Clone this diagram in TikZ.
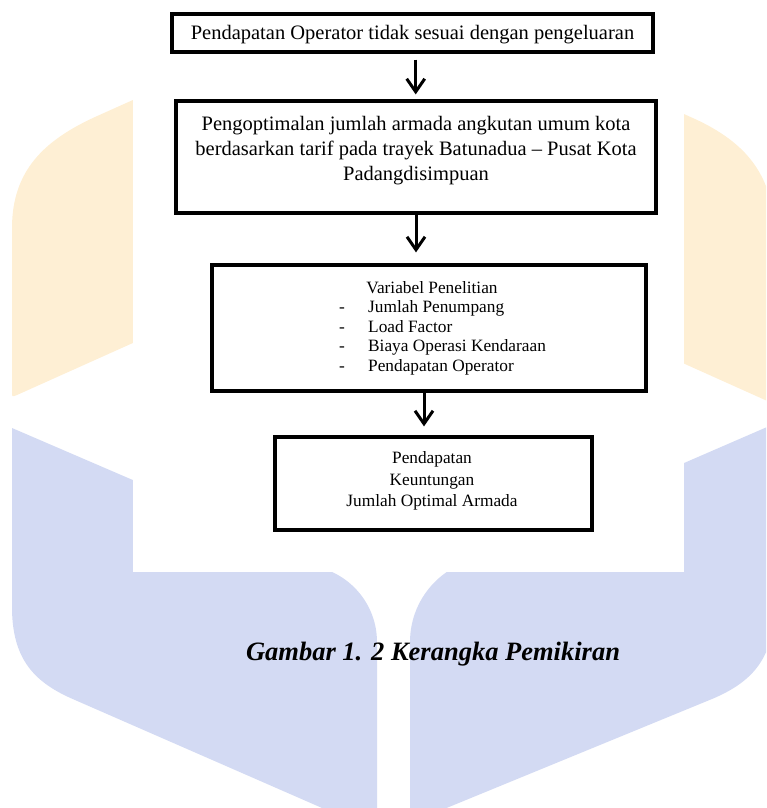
\documentclass[tikz,border=0pt]{standalone}
\usepackage{fontspec}
\setmainfont{Liberation Serif}
\usetikzlibrary{arrows.meta}
\definecolor{wmyellow}{RGB}{254,239,212}
\definecolor{wmblue}{RGB}{211,218,243}
\begin{document}
\begin{tikzpicture}[x=1pt,y=-1pt,
  box/.style={draw=black, line width=3.2pt, fill=white, inner sep=0pt},
  bigtxt/.style={font=\fontsize{20.5}{24}\selectfont, anchor=base, inner sep=0pt},
  smalltxt/.style={font=\fontsize{17.3}{20}\selectfont, anchor=base, inner sep=0pt},
  listtxt/.style={smalltxt, anchor=base west},
  arr/.style={line width=3pt, -{Straight Barb[length=13pt,width=18pt]}},
  captxt/.style={font=\fontsize{26.5}{30}\selectfont\bfseries\itshape, anchor=base, inner sep=0pt}
]
\useasboundingbox (0,0) rectangle (766,808);
\begin{scope}
\clip (0,0) rectangle (766,808);
% watermark
\fill[wmyellow] (300,25) -- (95,117) .. controls (45,140) and (12,170) .. (12,228) -- (12,392) .. controls (12,397) .. (17,395) -- (300,268) -- cycle;
\fill[wmyellow] (500,31) -- (695,119) .. controls (745,142) and (774,175) .. (774,233) -- (774,404) -- (500,281) -- cycle;
\fill[wmblue] (12,428) -- (300,552) -- (300,565) .. controls (342.5,565) and (377,599.5) .. (377,642) -- (377,832) -- (75,700) .. controls (35,683) and (12,660) .. (12,607) -- cycle;
\fill[wmblue] (410,823) -- (410,642) .. controls (410,595) and (448,557) .. (495,557) -- (495,545) -- (774,424) -- (774,609) .. controls (774,660) and (750,683) .. (712,699) -- cycle;
\fill[white] (133,0) rectangle (684,572);
\end{scope}
% boxes
\node[box, minimum width=481pt, minimum height=38pt] (b1) at (412.5,33) {};
\node[box, minimum width=480pt, minimum height=112pt] (b2) at (416,157) {};
\node[box, minimum width=434pt, minimum height=126pt] (b3) at (429,328) {};
\node[box, minimum width=317pt, minimum height=93pt] (b4) at (433.5,483.5) {};
% texts
\node[bigtxt] (t1) at (412.5,39.5) {Pendapatan Operator tidak sesuai dengan pengeluaran};
\node[bigtxt] (t2a) at (416,130) {Pengoptimalan jumlah armada angkutan umum kota};
\node[bigtxt] (t2b) at (416,155) {berdasarkan tarif pada trayek Batunadua – Pusat Kota};
\node[bigtxt] (t2c) at (416,180) {Padangdisimpuan};
\node[smalltxt] (t3) at (432,293) {Variabel Penelitian};
\node[listtxt] (v1) at (339,312.5) {\makebox[29pt][l]{-}Jumlah Penumpang};
\node[listtxt] (v2) at (339,332) {\makebox[29pt][l]{-}Load Factor};
\node[listtxt] (v3) at (339,351.5) {\makebox[29pt][l]{-}Biaya Operasi Kendaraan};
\node[listtxt] (v4) at (339,371) {\makebox[29pt][l]{-}Pendapatan Operator};
\node[smalltxt] (t4a) at (432,463.5) {Pendapatan};
\node[smalltxt] (t4b) at (432,485) {Keuntungan};
\node[smalltxt] (t4c) at (432,506.5) {Jumlah Optimal Armada};
% arrows
\draw[arr] ([xshift=3.2pt,yshift=-6pt]b1.south) -- ([xshift=-0.3pt,yshift=5pt]b2.north);
\draw[arr] (b2.south) -- ([xshift=-13pt,yshift=11pt]b3.north);
\draw[arr] ([xshift=-5pt]b3.south) -- ([xshift=-9.5pt,yshift=9pt]b4.north);
% caption
\node[captxt] (cap) at (433,660) {Gambar 1. 2 Kerangka Pemikiran};
\end{tikzpicture}
\end{document}
